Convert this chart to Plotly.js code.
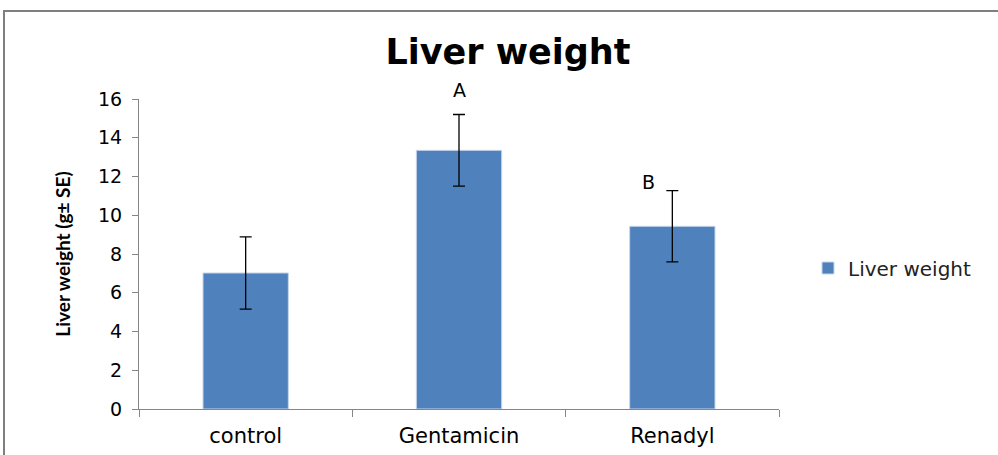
<!DOCTYPE html>
<html><head><meta charset="utf-8">
<script src="https://cdn.plot.ly/plotly-3.0.1.min.js"></script>
<style>html,body{margin:0;padding:0;background:#fff;}#chart{width:998px;height:455px;}</style>
</head><body><div id="chart"></div>
<script>
const categories = ["control", "Gentamicin", "Renadyl"];
const liverWeight = [7.02, 13.35, 9.43];
const liverWeightSE = [1.86, 1.85, 1.84];
const groupLetters = ["", "A", "B"];
const yTicks = [0, 2, 4, 6, 8, 10, 12, 14, 16];

const L = 139, R = 779, T = 99, B = 409;
const px2x = p => (p - L) / (R - L);
const py2y = p => (B - p) / (B - T);
const letterPixelY = [0, 90, 182];
const letterShift = [0, 0, -24];

const annotations = [];
categories.forEach((c, i) => {
  if (groupLetters[i]) {
    annotations.push({
      x: c, y: py2y(letterPixelY[i]), xref: 'x', yref: 'paper', text: groupLetters[i],
      showarrow: false, xshift: letterShift[i], yanchor: 'middle',
      font: {family: 'DejaVu Sans', size: 19, color: '#000'}
    });
  }
});

const trace = {
  type: 'bar', x: categories, y: liverWeight, name: 'Liver weight',
  marker: {color: '#4F81BD', line: {color: '#c6d5ea', width: 1}},
  width: 0.4,
  error_y: {type: 'data', array: liverWeightSE, visible: true, color: '#000', thickness: 1.3, width: 6}
};

const layout = {
  width: 998, height: 455,
  margin: {l: L, r: 998 - R, t: T, b: 455 - B, pad: 0},
  paper_bgcolor: '#fff', plot_bgcolor: '#fff',
  title: {text: '<b>Liver weight</b>', x: 508/998, xanchor: 'center', y: 1 - 52/455, yanchor: 'middle',
          font: {family: 'DejaVu Sans', size: 35, color: '#000'}},
  showlegend: true,
  legend: {x: px2x(808), xanchor: 'left', y: py2y(268), yanchor: 'middle',
           font: {family: 'DejaVu Sans', size: 20, color: '#222'}, bgcolor: 'rgba(0,0,0,0)'},
  xaxis: {type: 'category', showgrid: false, zeroline: false, showline: true, linecolor: '#868686', linewidth: 1,
          ticks: 'outside', tickson: 'boundaries', ticklen: 7, tickcolor: '#868686', ticklabelstandoff: 8,
          tickfont: {family: 'DejaVu Sans', size: 21, color: '#000'}, fixedrange: true},
  yaxis: {range: [0, 16], tickvals: yTicks, ticktext: yTicks.map(String), showgrid: false, zeroline: false,
          showline: true, linecolor: '#868686', linewidth: 1, ticks: 'outside', ticklen: 6, tickcolor: '#868686',
          ticklabelstandoff: 6,
          tickfont: {family: 'DejaVu Sans', size: 19, color: '#000'},
          title: {text: '<b>Liver weight (g± SE)</b>', standoff: 22, font: {family: 'Lato', size: 19, color: '#000'}}},
  bargap: 0.6,
  annotations: annotations,
  shapes: [{type: 'rect', xref: 'paper', yref: 'paper', x0: px2x(4), x1: px2x(1003), y0: py2y(11), y1: py2y(470),
            line: {color: '#7f7f7f', width: 2}, fillcolor: 'rgba(0,0,0,0)', layer: 'below'}]
};

Plotly.newPlot('chart', [trace], layout, {displayModeBar: false, staticPlot: true});
</script></body></html>
